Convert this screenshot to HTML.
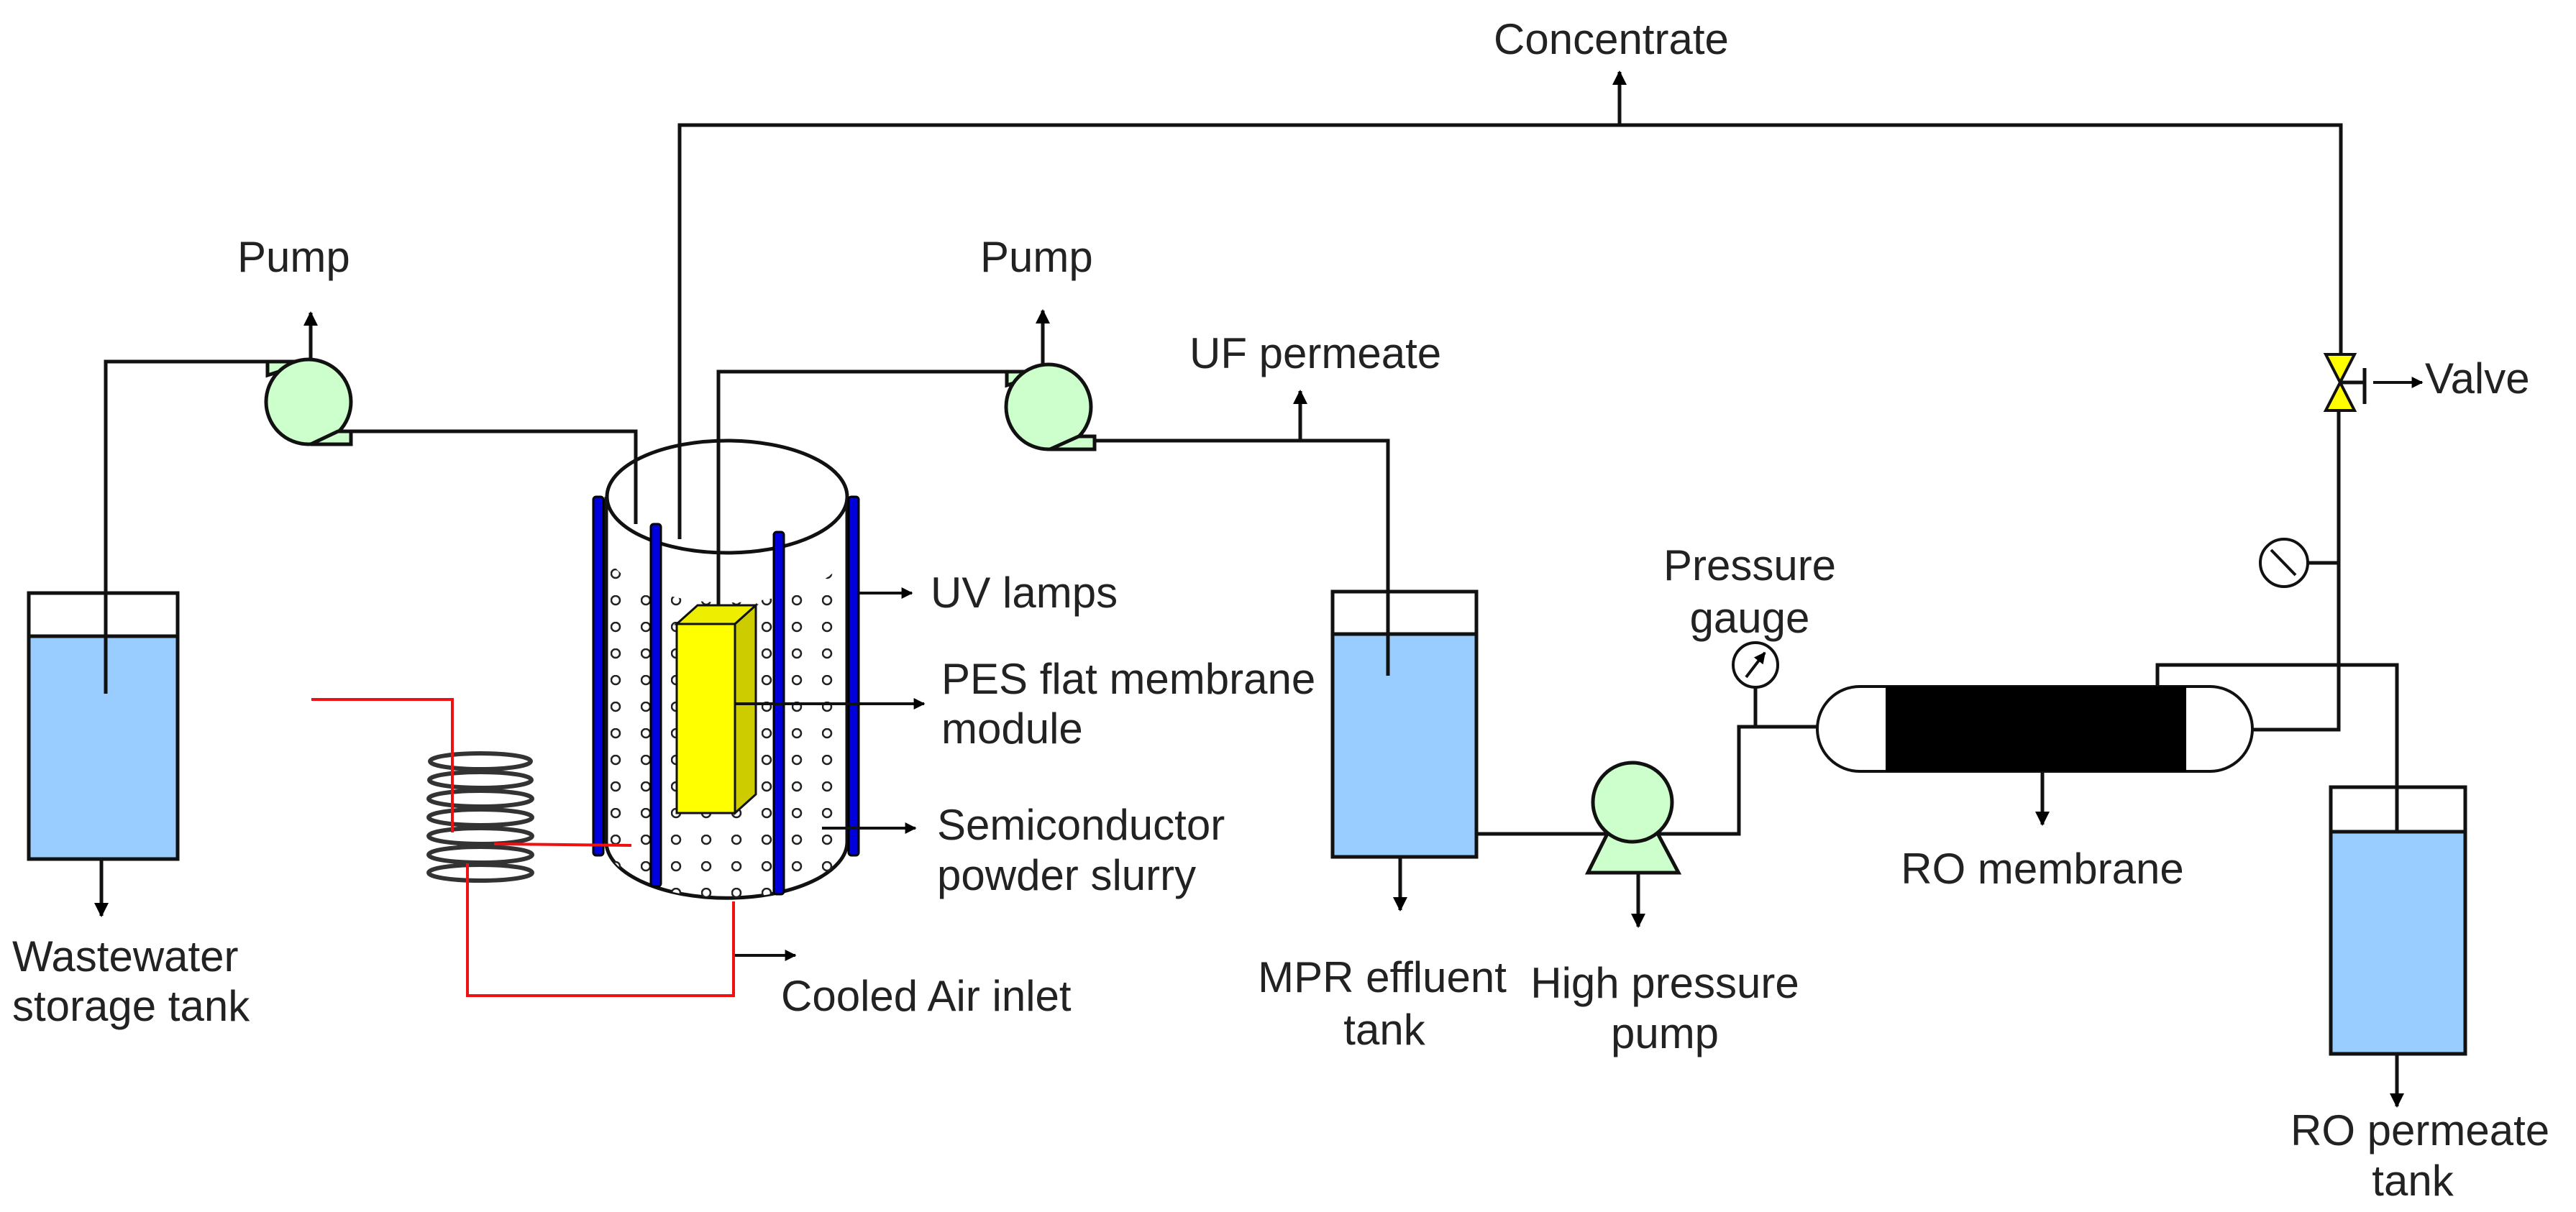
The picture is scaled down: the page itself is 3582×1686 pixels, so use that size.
<!DOCTYPE html>
<html><head><meta charset="utf-8"><style>html,body{margin:0;padding:0;background:#fff}svg{display:block}</style></head>
<body>
<svg xmlns="http://www.w3.org/2000/svg" width="3582" height="1686" viewBox="0 0 3582 1686" font-family="Liberation Sans, Arial, sans-serif" font-size="60" fill="#222">
<defs>
<marker id="ah" viewBox="0 0 10 10" refX="9" refY="5" markerWidth="4" markerHeight="4" orient="auto" markerUnits="strokeWidth"><path d="M0,0 L10,5 L0,10 z" fill="#000"/></marker>
<pattern id="dots" x="849" y="791" width="42" height="37" patternUnits="userSpaceOnUse">
<circle cx="7" cy="7" r="6" fill="#fff" stroke="#222" stroke-width="2.5"/>
</pattern>
<clipPath id="cyl"><path d="M843,760 L843,1171 A167,78 0 0 0 1178,1171 L1178,760 A167,78 0 0 1 843,760 z"/></clipPath>
</defs>
<g stroke="#111" stroke-width="5" fill="none">
<polyline points="945,750 945,174 3255,174 3255,493"/>
<line x1="2252" y1="174" x2="2252" y2="100" marker-end="url(#ah)"/>
<polyline points="147,965 147,503 380,503"/>
<line x1="432" y1="503" x2="432" y2="435" marker-end="url(#ah)"/>
<line x1="1450" y1="507" x2="1450" y2="432" marker-end="url(#ah)"/>
<polyline points="1522,613 1930,613 1930,882"/>
<line x1="1808" y1="613" x2="1808" y2="544" marker-end="url(#ah)"/>
<line x1="141" y1="1195" x2="141" y2="1274" marker-end="url(#ah)"/>
<polyline points="2053,1160 2418,1160 2418,1011 2527,1011"/>
<line x1="2441" y1="956" x2="2441" y2="1011"/>
<line x1="1947" y1="1192" x2="1947" y2="1266" marker-end="url(#ah)"/>
<line x1="2278" y1="1214" x2="2278" y2="1289" marker-end="url(#ah)"/>
<polyline points="3132,1015 3252,1015 3252,570"/>
<line x1="3210" y1="783" x2="3252" y2="783"/>
<polyline points="3000,1019 3000,925 3333,925 3333,1157"/>
<line x1="2840" y1="1073" x2="2840" y2="1147" marker-end="url(#ah)"/>
<line x1="3333" y1="1466" x2="3333" y2="1539" marker-end="url(#ah)"/>
<line x1="3256" y1="532" x2="3288" y2="532"/>
<line x1="3288" y1="512" x2="3288" y2="562"/>
<line x1="3300" y1="532" x2="3368" y2="532" stroke-width="4" marker-end="url(#ah)"/>
</g>
<g stroke="#111" stroke-width="5">
<rect x="40" y="825" width="207" height="370" fill="#fff"/>
<rect x="40" y="885" width="207" height="310" fill="#99ccff"/>
<rect x="1853" y="823" width="200" height="369" fill="#fff"/>
<rect x="1853" y="882" width="200" height="310" fill="#99ccff"/>
<rect x="3241" y="1095" width="187" height="371" fill="#fff"/>
<rect x="3241" y="1157" width="187" height="309" fill="#99ccff"/>
</g>
<g stroke="#111" stroke-width="5" fill="none">
<line x1="147" y1="825" x2="147" y2="965"/>
<line x1="1930" y1="823" x2="1930" y2="940"/>
<line x1="3333" y1="1095" x2="3333" y2="1157"/>
</g>
<g stroke="#111" stroke-width="5" fill="#ccffcc">
<path d="M372,503 L432,503 L372,522 z"/>
<circle cx="429" cy="559" r="59"/>
<path d="M470,600 L488,600 L488,618 L432,618 z"/>
<path d="M1400,517 L1460,517 L1400,536 z"/>
<circle cx="1458" cy="566" r="59"/>
<path d="M1500,607 L1522,607 L1522,625 L1460,625 z"/>
<path d="M2240,1150 L2300,1150 L2334,1214 L2208,1214 z"/>
<circle cx="2270" cy="1116" r="55"/>
</g>
<line x1="2053" y1="1160" x2="2215" y2="1160" stroke="#111" stroke-width="5"/>
<line x1="2325" y1="1160" x2="2418" y2="1160" stroke="#111" stroke-width="5"/>
<g stroke="#111" stroke-width="4" fill="#fff">
<circle cx="2441" cy="925" r="31"/>
<line x1="2428" y1="942" x2="2454" y2="908" marker-end="url(#ah)"/>
<circle cx="3176" cy="783" r="33"/>
<line x1="3158" y1="765" x2="3192" y2="800"/>
</g>
<rect x="2527" y="955" width="605" height="118" rx="59" ry="59" fill="#fff" stroke="#111" stroke-width="4"/>
<rect x="2622" y="955" width="418" height="118" fill="#000"/>
<path d="M3234,493 L3274,493 L3254,532 z M3234,571 L3274,571 L3254,532 z" fill="#ffff00" stroke="#111" stroke-width="4"/>
<!-- reactor -->
<path d="M843,691 L843,1171 A167,78 0 0 0 1178,1171 L1178,691" fill="#fff" stroke="#111" stroke-width="5"/>
<rect x="843" y="600" width="335" height="700" fill="url(#dots)" clip-path="url(#cyl)"/>
<ellipse cx="1011" cy="691" rx="167" ry="78" fill="#fff" stroke="#111" stroke-width="5"/>
<g stroke="#111" stroke-width="5" fill="none">
<polyline points="488,600 884,600 884,729"/>
<line x1="945" y1="174" x2="945" y2="750"/>
<polyline points="999,842 999,517 1400,517"/>
</g>
<g fill="#0000dd" stroke="#000" stroke-width="3">
<rect x="825" y="691" width="14" height="499" rx="4"/>
<rect x="1180" y="691" width="14" height="499" rx="4"/>
<rect x="905" y="729" width="14" height="504" rx="4"/>
<rect x="1076" y="740" width="14" height="504" rx="4"/>
</g>
<g stroke="#111" stroke-width="3">
<path d="M941,868 L970,842 L1051,842 L1022,868 z" fill="#eeee00"/>
<path d="M1022,868 L1051,842 L1051,1105 L1022,1131 z" fill="#cccc00"/>
<rect x="941" y="868" width="81" height="263" fill="#ffff00"/>
</g>
<g stroke="#111" stroke-width="4" fill="none">
<line x1="1194" y1="825" x2="1268" y2="825" marker-end="url(#ah)"/>
<line x1="1022" y1="979" x2="1285" y2="979" marker-end="url(#ah)"/>
<line x1="1143" y1="1152" x2="1273" y2="1152" marker-end="url(#ah)"/>
<line x1="1020" y1="1329" x2="1106" y2="1329" marker-end="url(#ah)"/>
</g>
<g stroke="#333" stroke-width="6" fill="none">
<ellipse cx="668" cy="1059" rx="70" ry="11"/>
<ellipse cx="668" cy="1085" rx="71" ry="11"/>
<ellipse cx="668" cy="1111" rx="72" ry="11"/>
<ellipse cx="668" cy="1137" rx="72" ry="11"/>
<ellipse cx="668" cy="1163" rx="72" ry="11"/>
<ellipse cx="668" cy="1189" rx="72" ry="11"/>
<ellipse cx="668" cy="1214" rx="72" ry="11"/>
</g>
<g stroke="#ee1111" stroke-width="4" fill="none">
<polyline points="433,973 629,973 629,1158"/>
<line x1="687" y1="1174" x2="878" y2="1176"/>
<polyline points="1020,1254 1020,1385 650,1385 650,1201"/>
</g>
<text x="2077" y="75">Concentrate</text>
<text x="330" y="378">Pump</text>
<text x="1363" y="378">Pump</text>
<text x="1654" y="512">UF permeate</text>
<text x="1294" y="845">UV lamps</text>
<text x="1309" y="965">PES flat membrane</text>
<text x="1309" y="1034">module</text>
<text x="1303" y="1168">Semiconductor</text>
<text x="1303" y="1238">powder slurry</text>
<text x="1086" y="1406">Cooled Air inlet</text>
<text x="17" y="1351">Wastewater</text>
<text x="17" y="1420">storage tank</text>
<text x="1922" y="1380" text-anchor="middle">MPR effluent</text>
<text x="1925" y="1453" text-anchor="middle">tank</text>
<text x="2315" y="1388" text-anchor="middle">High pressure</text>
<text x="2315" y="1458" text-anchor="middle">pump</text>
<text x="2433" y="807" text-anchor="middle">Pressure</text>
<text x="2433" y="880" text-anchor="middle">gauge</text>
<text x="2840" y="1229" text-anchor="middle">RO membrane</text>
<text x="3372" y="547">Valve</text>
<text x="3185" y="1593">RO permeate</text>
<text x="3355" y="1663" text-anchor="middle">tank</text>
</svg>
</body></html>
